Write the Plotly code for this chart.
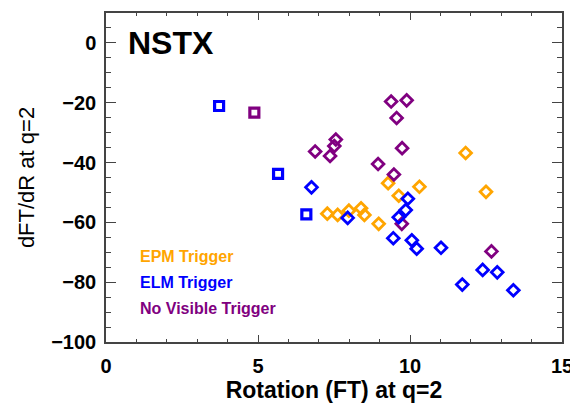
import plotly.graph_objects as go

FONT = "Liberation Sans, Arial, sans-serif"
ORANGE = "#FFA500"
BLUE = "#0000FF"
PURPLE = "#800080"

# EPM trigger (orange diamonds)
epm_x = [11.83, 9.28, 10.31, 12.50, 9.63, 7.28, 7.62, 7.99, 8.39, 8.50, 8.97]
epm_y = [-36.8, -46.9, -48.1, -49.8, -51.1, -57.1, -57.5, -56.1, -55.3, -57.5, -60.5]

# ELM trigger (blue diamonds + squares)
elm_x = [6.76, 9.93, 9.86, 7.95, 9.63, 9.45, 10.06, 10.22, 11.02, 11.72, 12.39, 12.87, 13.40]
elm_y = [-48.3, -52.1, -55.9, -58.5, -58.3, -65.3, -66.0, -68.8, -68.5, -80.8, -75.9, -76.7, -82.7]
elm_sq_x = [3.72, 5.66, 6.59]
elm_sq_y = [-21.1, -43.8, -57.3]

# no visible trigger (purple diamonds + square)
nvt_x = [9.38, 9.89, 9.56, 7.56, 7.51, 6.88, 7.37, 9.74, 8.95, 9.47, 9.73, 12.68]
nvt_y = [-19.6, -19.2, -25.1, -32.3, -34.5, -36.3, -37.8, -35.2, -40.5, -44.0, -60.5, -69.7]
nvt_sq_x = [4.88]
nvt_sq_y = [-23.3]

fig = go.Figure()


def add_pts(x, y, color, symbol, size, lw):
    fig.add_trace(go.Scatter(
        x=x, y=y, mode="markers", showlegend=False,
        marker=dict(symbol=symbol, size=size, color=color, line=dict(color=color, width=lw)),
    ))


add_pts(epm_x, epm_y, ORANGE, "diamond-open", 9, 2.8)
add_pts(nvt_x, nvt_y, PURPLE, "diamond-open", 9, 2.8)
add_pts(elm_x, elm_y, BLUE, "diamond-open", 9, 2.8)
add_pts(elm_sq_x, elm_sq_y, BLUE, "square-open", 9, 3.2)
add_pts(nvt_sq_x, nvt_sq_y, PURPLE, "square-open", 9, 3.2)

labels = [("EPM Trigger", ORANGE), ("ELM Trigger", BLUE), ("No Visible Trigger", PURPLE)]
for i, (txt, col) in enumerate(labels):
    fig.add_annotation(
        x=1.05, y=-71.5 - i * 8.7, xref="x", yref="y", text=f"<b>{txt}</b>",
        showarrow=False, xanchor="left", yanchor="middle",
        font=dict(family=FONT, size=16, color=col),
    )

fig.add_annotation(
    x=0.65, y=0, xref="x", yref="y", text="<b>NSTX</b>",
    showarrow=False, xanchor="left", yanchor="middle",
    font=dict(family=FONT, size=32, color="black"),
)

# page body adds ~8px offset, so the figure is sized to fit the 578x405 window
fig.update_layout(
    width=570, height=397,
    margin=dict(l=98, r=16, t=5, b=63),
    paper_bgcolor="white", plot_bgcolor="white",
    font=dict(family=FONT, color="black"),
)
fig.update_xaxes(
    range=[0, 15], tickvals=[0, 5, 10, 15],
    ticks="inside", ticklen=7, tickwidth=1.2, tickcolor="#444",
    minor=dict(dtick=1, ticks="inside", ticklen=3, tickcolor="#444"),
    showline=True, linecolor="#444", linewidth=1.5, mirror="ticks",
    showgrid=False, zeroline=False, automargin=False, ticklabeloverflow="allow",
    tickfont=dict(family=FONT, size=20, weight="bold"), ticklabelstandoff=5,
    title=dict(text="<b>Rotation (FT) at q=2</b>", font=dict(family=FONT, size=23), standoff=0),
)
fig.update_yaxes(
    range=[-100, 10], tickvals=[0, -20, -40, -60, -80, -100],
    ticks="inside", ticklen=10, tickwidth=1.2, tickcolor="#444",
    minor=dict(dtick=5, ticks="inside", ticklen=5, tickcolor="#444"),
    showline=True, linecolor="#444", linewidth=1.5, mirror="ticks",
    showgrid=False, zeroline=False, automargin=False,
    tickfont=dict(family=FONT, size=20, weight="bold"), ticklabelstandoff=4,
    title=dict(text="dFT/dR at q=2", font=dict(family=FONT, size=22), standoff=10),
)

fig.write_html("out.html")
